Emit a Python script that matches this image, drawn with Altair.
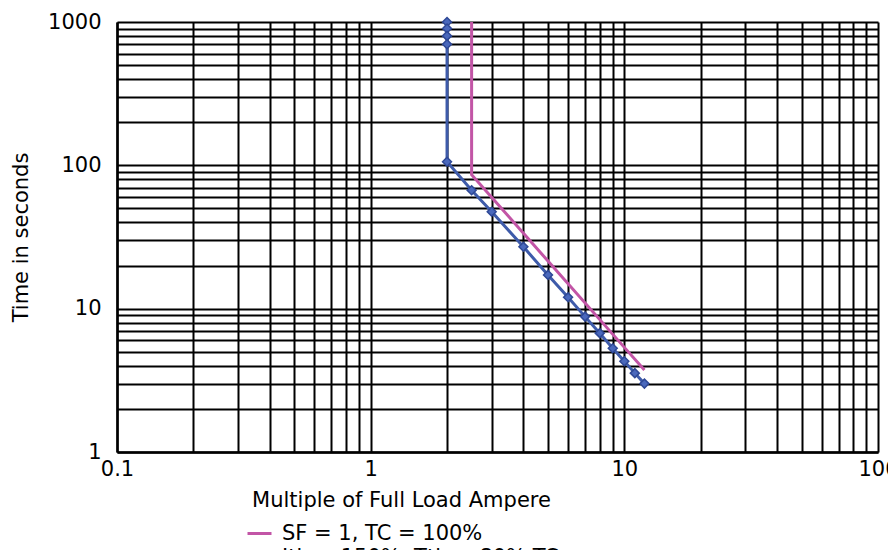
import altair as alt
import pandas as pd

series_names = ["SF = 1, TC = 100%", "Ith = 150%, Tth = 80%·TC"]
series_colors = ["#C255A6", "#3E5BAA"]

# SF = 1, TC = 100% curve (multiple of FLA, seconds)
sf_current = [2.5, 2.5, 5.0, 10.0, 12.0]
sf_time = [1000, 86, 21.5, 5.37, 3.73]

# Ith = 150%, Tth = 80%·TC curve
ith_current = [2.0, 2.0, 2.0, 2.0, 2.0, 2.5, 3.0, 4.0, 5.0, 6.0, 7.0, 8.0, 9.0, 10.0, 11.0, 12.0]
ith_time = [1000, 900, 800, 700, 106, 67, 47.5, 27, 17.2, 12, 8.8, 6.75, 5.3, 4.3, 3.55, 3.0]

x_grid = [0.1, 0.2, 0.3, 0.4, 0.5, 0.6, 0.7, 0.8, 0.9,
          1, 2, 3, 4, 5, 6, 7, 8, 9,
          10, 20, 30, 40, 50, 60, 70, 80, 90, 100]
y_grid = [1, 2, 3, 4, 5, 6, 7, 8, 9,
          10, 20, 30, 40, 50, 60, 70, 80, 90,
          100, 200, 300, 400, 500, 600, 700, 800, 900, 1000]

rows = []
for i, (x, y) in enumerate(zip(sf_current, sf_time)):
    rows.append({"I": x, "t": y, "series": series_names[0], "order": i})
for i, (x, y) in enumerate(zip(ith_current, ith_time)):
    rows.append({"I": x, "t": y, "series": series_names[1], "order": i})
df = pd.DataFrame(rows)
df_blue = df[df["series"] == series_names[1]]

FONT = "DejaVu Sans"
FS = 21
label_expr = ("datum.value == 1 || datum.value == 10 || datum.value == 100 || "
              "datum.value == 1000 || (datum.value > 0.099 && datum.value < 0.101) ? datum.label : ''")

x_enc = alt.X(
    "I:Q",
    scale=alt.Scale(type="log", domain=[0.1, 100], nice=False),
    axis=alt.Axis(values=x_grid, format="~g", labelExpr=label_expr,
                  title="Multiple of Full Load Ampere", titlePadding=10,
                  titleX=284, titleAlign="center", titleAnchor="middle",
                  labelPadding=6, ticks=False, labelFlush=False),
)
y_enc = alt.Y(
    "t:Q",
    scale=alt.Scale(type="log", domain=[1, 1000], nice=False),
    axis=alt.Axis(values=y_grid, format="~g", labelExpr=label_expr,
                  title="Time in seconds", titlePadding=16,
                  labelPadding=16, ticks=False, labelFlush=False),
)
color_scale = alt.Scale(domain=series_names, range=series_colors)

legend = alt.Legend(
    title=None, orient="none", legendX=129, legendY=498,
    direction="vertical", labelFontSize=FS, labelFont=FONT, labelColor="black",
    labelLimit=600,
    symbolType=alt.ExprRef(expr="indexof(datum.value, 'Ith') === 0 ? 'M-1,0H1M0,-0.3L0.3,0L0,0.3L-0.3,0Z' : 'M-1,0H1'"),
    symbolSize=576, symbolStrokeWidth=3, rowPadding=-2, labelOffset=9,
)

lines = alt.Chart(df).mark_line(strokeWidth=3).encode(
    x=x_enc, y=y_enc,
    color=alt.Color("series:N", scale=color_scale, legend=legend),
    order="order:Q",
)

points = alt.Chart(df_blue).mark_point(
    shape="diamond", filled=True, size=80, fill="#4A68BC", stroke="#2E4896",
    strokeWidth=1.5, opacity=1
).encode(x=x_enc, y=y_enc)

chart = alt.layer(lines, points).properties(
    width=761, height=430,
    autosize=alt.AutoSizeParams(type="none"),
    padding={"left": 109, "top": 14, "right": 10, "bottom": 98},
).configure_view(stroke=None).configure_axis(
    grid=True, gridColor="black", gridWidth=2, gridOpacity=1,
    domainColor="black", domainWidth=2.5,
    labelFont=FONT, labelFontSize=FS, labelColor="black",
    titleFont=FONT, titleFontSize=FS, titleColor="black", titleFontWeight="normal",
).configure_axisY(labelAlign="right", labelBaseline="middle")

chart.save("out.html", embed_options={"renderer": "svg", "actions": False})
